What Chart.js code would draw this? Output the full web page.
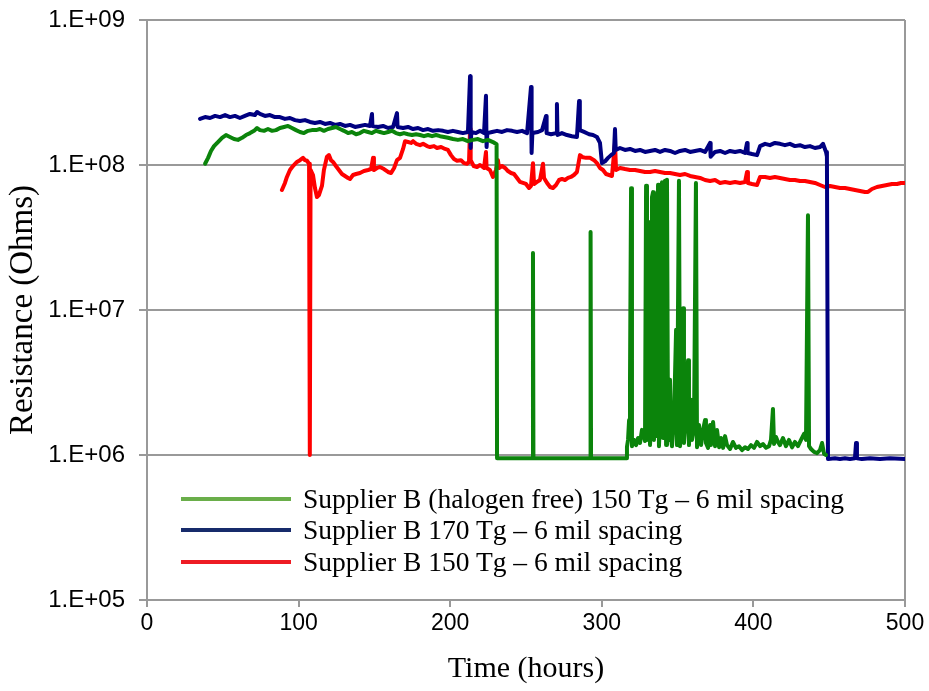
<!DOCTYPE html>
<html>
<head>
<meta charset="utf-8">
<script src="https://cdn.jsdelivr.net/npm/chart.js@4"></script>
<style>
html,body{margin:0;padding:0;background:#fff;}
#wrap{position:relative;width:929px;height:691px;}
#legend{position:absolute;left:181px;top:483px;font-family:'Liberation Serif','Times New Roman',serif;font-size:27.5px;color:#000;}
#legend .row{display:flex;align-items:center;height:31.5px;white-space:nowrap;}
#legend .sw{width:110px;height:4px;margin-right:12px;}
</style>
</head>
<body>
<div id="wrap"><canvas id="c" width="929" height="691"></canvas><div id="legend"></div></div>
<script>
// series labels + tick labels
const seriesLabels = ['Supplier B (halogen free) 150 Tg \u2013 6 mil spacing','Supplier B 170 Tg \u2013 6 mil spacing','Supplier B 150 Tg \u2013 6 mil spacing'];
const yTickValues = [1e5,1e6,1e7,1e8,1e9];
const yTickLabels = ['1.E+05','1.E+06','1.E+07','1.E+08','1.E+09'];
const xTickValues = [0,100,200,300,400,500];

// [hours, ohms]
const greenSeries = [
 [38.3,1.02e8],[40.3,1.12e8],[42.2,1.25e8],[44.2,1.35e8],[46.8,1.44e8],[49.5,1.54e8],[52.1,1.61e8],[54.7,1.56e8],[57.4,1.51e8],[60.0,1.49e8],
 [62.7,1.54e8],[65.3,1.61e8],[68.0,1.66e8],[70.6,1.72e8],[72.6,1.80e8],[74.5,1.74e8],[77.2,1.72e8],[79.8,1.77e8],[82.5,1.72e8],[85.1,1.74e8],
 [87.7,1.80e8],[90.4,1.83e8],[93.0,1.86e8],[95.6,1.80e8],[98.3,1.74e8],[100.9,1.69e8],[103.5,1.66e8],[106.2,1.72e8],[108.8,1.74e8],[111.5,1.74e8],
 [114.1,1.77e8],[116.7,1.72e8],[119.4,1.77e8],[122.0,1.80e8],[124.6,1.83e8],[127.3,1.77e8],[129.9,1.72e8],[132.6,1.66e8],[135.2,1.69e8],[137.9,1.63e8],
 [140.5,1.66e8],[143.1,1.72e8],[145.8,1.69e8],[148.4,1.66e8],[151.1,1.72e8],[153.7,1.69e8],[156.3,1.66e8],[159.0,1.69e8],[161.6,1.72e8],[164.2,1.66e8],
 [166.9,1.63e8],[169.5,1.66e8],[172.2,1.63e8],[174.8,1.61e8],[177.5,1.63e8],[180.1,1.61e8],[182.7,1.58e8],[185.4,1.61e8],[188.0,1.58e8],[190.7,1.61e8],
 [193.3,1.58e8],[196.0,1.56e8],[198.5,1.54e8],[201.8,1.51e8],[205.1,1.49e8],[208.4,1.51e8],[211.7,1.46e8],[215.0,1.49e8],[218.3,1.51e8],[221.6,1.46e8],
 [224.9,1.49e8],[228.2,1.44e8],[230.6,1.39e8],[230.9,9.5e5],[240.0,9.5e5],[254.4,9.5e5],[254.6,2.47e7],[254.9,9.5e5],[270.0,9.5e5],[292.4,9.5e5],
 [292.6,3.45e7],[292.9,9.5e5],[305.0,9.5e5],[316.0,9.5e5],
 [316.6,1.14e6],[317.3,1.27e6],[318.0,1.74e6],[318.6,3.3e6],[319.3,6.9e7],[319.9,1.15e6],[321.3,1.27e6],[322.6,1.17e6],[323.9,1.31e6],[325.2,1.21e6],
 [326.5,1.49e6],[327.8,1.35e6],[328.5,1.25e6],[329.2,7.2e7],[329.8,1.27e6],[330.5,1.44e6],[331.1,4.05e7],[331.8,1.17e6],[332.5,1.74e6],[333.1,6.0e7],
 [333.8,6.5e7],[334.4,1.27e6],[335.1,3.3e6],[335.8,1.35e6],[336.4,1.17e7],[337.1,7.3e7],[337.7,1.15e6],[338.4,1.74e6],[339.1,1.17e7],[339.7,7.6e7],
 [340.4,1.31e6],[341.0,2.6e7],[341.7,7.8e7],[342.4,1.17e6],[343.0,7.9e7],[343.7,1.27e6],[344.3,1.74e6],[345.0,3.3e6],[345.7,1.31e6],[346.3,1.15e6],
 [347.6,1.74e6],[349.0,7.3e6],[349.6,1.17e6],[350.9,7.8e7],[351.6,1.15e6],[352.3,1.61e6],[353.6,1.03e7],[354.2,1.21e6],[355.5,1.74e6],[356.9,4.5e6],
 [357.5,1.17e6],[358.8,2.4e6],[359.5,1.27e6],[360.8,1.49e6],[362.1,7.5e7],[362.8,1.13e6],[364.1,1.61e6],[365.5,1.17e6],[366.8,1.49e6],[368.1,1.74e6],
 [368.7,1.21e6],[370.1,1.12e6],[371.4,1.61e6],[372.0,1.17e6],[373.4,1.69e6],[374.7,1.15e6],[376.0,1.49e6],[377.4,1.13e6],[378.6,1.31e6],[380.0,1.12e6],
 [381.3,1.35e6],[382.6,1.17e6],[384.6,1.10e6],[386.5,1.23e6],[388.5,1.12e6],[390.5,1.15e6],[392.5,1.08e6],[394.5,1.13e6],[396.4,1.10e6],[398.4,1.17e6],
 [400.4,1.12e6],[402.4,1.23e6],[404.4,1.15e6],[406.3,1.19e6],[408.3,1.12e6],[410.3,1.15e6],[411.6,1.27e6],[412.9,2.08e6],[413.6,1.19e6],[414.9,1.33e6],
 [416.2,1.23e6],[417.5,1.17e6],[419.5,1.31e6],[421.5,1.15e6],[423.5,1.27e6],[425.5,1.13e6],[427.4,1.23e6],[429.4,1.15e6],[431.4,1.27e6],[433.4,1.40e6],
 [434.7,1.27e6],[436.0,4.5e7],[436.7,1.15e6],[438.0,1.10e6],[440.0,1.05e6],[442.0,1.03e6],[443.9,1.08e6],[445.3,1.21e6],[446.6,1.02e6],[447.9,1.0e6]
];

const blueSeries = [
 [35.0,2.08e8],[38.3,2.14e8],[41.6,2.11e8],[44.9,2.18e8],[48.2,2.14e8],[51.5,2.21e8],[54.7,2.14e8],[58.0,2.18e8],[61.3,2.11e8],[64.6,2.18e8],
 [67.9,2.25e8],[71.2,2.21e8],[72.6,2.32e8],[74.5,2.25e8],[77.8,2.18e8],[81.1,2.21e8],[84.4,2.14e8],[87.7,2.14e8],[91.0,2.08e8],[94.3,2.11e8],
 [97.6,2.04e8],[100.9,2.01e8],[104.2,2.04e8],[107.5,1.98e8],[110.8,1.95e8],[114.1,1.98e8],[117.4,1.92e8],[120.7,1.95e8],[124.0,1.89e8],[127.3,1.92e8],
 [130.6,1.86e8],[133.9,1.89e8],[137.2,1.83e8],[140.5,1.86e8],[143.8,1.89e8],[147.1,1.86e8],[148.4,2.25e8],[148.7,1.86e8],[152.4,1.83e8],[155.7,1.86e8],
 [159.0,1.80e8],[162.3,1.83e8],[164.9,2.28e8],[165.3,1.83e8],[168.9,1.80e8],[172.2,1.83e8],[175.5,1.77e8],[178.8,1.80e8],[182.1,1.74e8],[185.4,1.77e8],
 [188.7,1.72e8],[192.0,1.74e8],[195.3,1.72e8],[198.5,1.69e8],[201.8,1.72e8],[205.1,1.69e8],[208.4,1.66e8],[211.7,1.69e8],[213.1,4.1e8],[213.5,1.31e8],
 [213.9,1.69e8],[217.0,1.66e8],[219.7,1.72e8],[222.3,1.66e8],[223.6,3.0e8],[224.0,1.33e8],[224.5,1.66e8],[227.6,1.69e8],[230.9,1.72e8],[234.2,1.69e8],
 [237.5,1.74e8],[240.8,1.72e8],[244.1,1.69e8],[247.4,1.72e8],[250.7,1.66e8],[253.3,3.45e8],[253.7,1.21e8],[254.2,1.66e8],[257.9,1.69e8],[260.6,1.74e8],
 [263.2,2.18e8],[263.6,1.66e8],[266.5,1.63e8],[269.9,1.66e8],[270.4,2.63e8],[270.8,1.61e8],[273.7,1.66e8],[277.0,1.61e8],[280.3,1.58e8],[283.6,1.56e8],
 [285.0,2.76e8],[285.5,1.74e8],[288.3,1.69e8],[291.6,1.63e8],[294.2,1.61e8],[296.8,1.56e8],[298.8,1.42e8],[300.1,1.03e8],[302.1,1.06e8],[304.1,1.12e8],
 [306.1,1.17e8],[308.0,1.21e8],[308.7,1.77e8],[309.2,1.27e8],[312.0,1.31e8],[315.3,1.27e8],[318.6,1.29e8],[321.9,1.25e8],[325.2,1.27e8],[328.5,1.23e8],
 [331.8,1.25e8],[335.1,1.27e8],[338.4,1.23e8],[341.7,1.27e8],[345.0,1.25e8],[348.3,1.21e8],[351.6,1.25e8],[354.9,1.27e8],[358.2,1.23e8],[361.5,1.25e8],
 [364.8,1.27e8],[368.1,1.23e8],[371.4,1.42e8],[371.8,1.14e8],[374.7,1.23e8],[378.0,1.25e8],[381.3,1.21e8],[384.6,1.25e8],[387.9,1.23e8],[391.2,1.25e8],
 [394.5,1.21e8],[395.8,1.42e8],[396.2,1.21e8],[399.1,1.19e8],[402.4,1.17e8],[404.4,1.35e8],[407.7,1.40e8],[410.9,1.37e8],[414.2,1.42e8],[417.5,1.40e8],
 [420.8,1.37e8],[424.1,1.40e8],[427.4,1.35e8],[430.7,1.37e8],[434.0,1.33e8],[437.3,1.35e8],[440.6,1.31e8],[443.9,1.33e8],[445.9,1.40e8],[447.9,1.23e8],
 [448.5,1.14e8],[449.2,9.4e5],[453.8,9.5e5],[457.1,9.4e5],[460.4,9.5e5],[463.7,9.4e5],[467.0,9.5e5],[467.7,1.21e6],[468.3,9.5e5],[471.6,9.4e5],
 [476.9,9.5e5],[483.5,9.4e5],[490.1,9.5e5],[500,9.4e5]
];

const redSeries = [
 [89.0,6.73e7],[91.0,7.52e7],[92.3,8.27e7],[94.3,9.24e7],[96.3,9.84e7],[98.9,1.05e8],[100.9,1.08e8],[102.9,1.12e8],[104.2,1.08e8],[105.5,1.07e8],
 [106.9,1.02e8],[107.4,1.0e6],[107.9,9.24e7],[109.5,8.53e7],[110.8,6.94e7],[112.1,6.02e7],[113.4,6.21e7],[115.4,7.17e7],[116.7,9.24e7],[118.7,1.14e8],
 [120.0,1.17e8],[121.4,1.08e8],[122.7,1.05e8],[124.6,9.84e7],[126.6,9.24e7],[128.6,8.67e7],[130.6,8.40e7],[132.6,8.14e7],[133.9,8.01e7],[135.9,8.53e7],
 [137.9,8.67e7],[140.5,8.81e7],[143.1,9.09e7],[145.8,9.24e7],[147.8,9.38e7],[149.1,1.12e8],[149.7,9.24e7],[151.7,9.54e7],[153.7,9.69e7],[156.3,9.38e7],
 [159.0,8.95e7],[161.0,8.81e7],[163.0,9.54e7],[164.9,1.08e8],[166.9,1.12e8],[168.9,1.29e8],[170.2,1.46e8],[172.2,1.44e8],[174.2,1.42e8],[175.5,1.46e8],
 [177.5,1.40e8],[180.1,1.37e8],[182.1,1.40e8],[184.7,1.35e8],[186.7,1.33e8],[189.3,1.35e8],[191.3,1.31e8],[194.0,1.33e8],[196.6,1.29e8],[198.5,1.27e8],
 [200.5,1.17e8],[202.5,1.10e8],[204.5,1.07e8],[207.1,1.08e8],[209.1,1.03e8],[211.1,1.02e8],[212.4,1.05e8],[213.1,1.77e8],[213.5,1.08e8],[215.5,9.84e7],
 [217.7,9.69e7],[219.7,1.0e8],[222.3,9.54e7],[223.6,1.23e8],[224.0,9.54e7],[226.2,9.24e7],[228.2,8.27e7],[230.2,9.24e7],[231.5,1.08e8],[232.2,9.54e7],
 [234.2,9.84e7],[236.2,9.54e7],[238.1,9.09e7],[240.1,8.81e7],[242.1,8.67e7],[244.1,8.14e7],[246.0,7.64e7],[248.0,7.52e7],[250.0,7.40e7],[252.0,6.94e7],
 [253.3,7.17e7],[254.6,1.03e8],[255.3,7.40e7],[257.3,7.64e7],[259.2,7.88e7],[261.2,1.02e8],[261.9,8.14e7],[263.9,7.52e7],[265.9,7.05e7],[267.8,6.94e7],
 [269.8,7.28e7],[271.8,7.88e7],[273.7,8.01e7],[275.7,7.88e7],[277.7,8.14e7],[279.6,8.27e7],[281.6,8.53e7],[283.6,8.95e7],[285.6,1.17e8],[287.6,1.13e8],
 [289.6,1.12e8],[292.2,1.12e8],[294.9,1.08e8],[296.8,1.03e8],[298.8,9.54e7],[300.8,9.24e7],[302.8,8.67e7],[304.8,8.53e7],[306.7,8.40e7],[308.7,1.42e8],
 [309.4,9.24e7],[312.0,9.54e7],[315.3,9.38e7],[318.6,9.24e7],[321.9,9.24e7],[325.2,9.09e7],[328.5,8.95e7],[331.8,8.95e7],[335.1,9.09e7],[338.4,8.95e7],
 [341.7,8.81e7],[345.0,8.81e7],[348.3,8.67e7],[351.6,8.53e7],[354.9,8.67e7],[358.2,8.40e7],[361.5,8.27e7],[364.8,8.14e7],[368.1,7.88e7],[371.4,7.76e7],
 [374.7,7.88e7],[378.0,7.52e7],[381.3,7.64e7],[384.6,7.52e7],[387.9,7.64e7],[391.2,7.52e7],[394.5,7.64e7],[395.8,8.95e7],[396.4,7.52e7],[399.1,7.40e7],
 [402.4,7.28e7],[404.4,8.27e7],[407.7,8.27e7],[410.9,8.14e7],[414.2,8.27e7],[417.5,8.14e7],[420.8,8.01e7],[424.1,7.88e7],[427.4,7.88e7],[430.7,7.76e7],
 [434.0,7.76e7],[437.3,7.64e7],[440.6,7.52e7],[443.9,7.28e7],[447.2,7.05e7],[450.5,7.17e7],[453.8,7.05e7],[457.1,6.94e7],[460.4,6.94e7],[463.7,6.83e7],
 [467.0,6.73e7],[470.3,6.62e7],[473.6,6.52e7],[475.6,6.52e7],[478.2,6.83e7],[481.5,7.05e7],[484.8,7.17e7],[488.1,7.28e7],[491.4,7.40e7],[494.7,7.40e7],
 [497.4,7.52e7],[500,7.52e7]
];

const lineColors = ['#0b840b','#000080','#ff0000'];
const legendColors = ['#6aae4a','#172b6b','#ee1c24'];

const pts = arr => arr.map(p=>({x:p[0], y:p[1]}));
const sans = "'Liberation Sans', Arial, sans-serif";
const serif = "'Liberation Serif', 'Times New Roman', serif";

// right edge of the plot frame
const frame = {
  id:'frame',
  beforeDatasetsDraw(ch){
    const a = ch.chartArea, c = ch.ctx;
    c.save(); c.strokeStyle='#999'; c.lineWidth=2;
    c.beginPath(); c.moveTo(a.right, a.top); c.lineTo(a.right, a.bottom); c.stroke();
    c.restore();
  }
};

new Chart(document.getElementById('c'), {
  type:'line',
  data:{ datasets:[greenSeries, blueSeries, redSeries].map((s,i)=>({
    label:seriesLabels[i], data:pts(s), borderColor:lineColors[i], backgroundColor:lineColors[i], fill:false
  }))},
  options:{
    responsive:false, animation:false, normalized:true,
    layout:{padding:{top:20, right:24, left:0, bottom:0}},
    plugins:{legend:{display:false}, tooltip:{enabled:false}},
    elements:{point:{radius:0}, line:{borderWidth:4, tension:0, borderJoinStyle:'round', borderCapStyle:'round'}},
    scales:{
      x:{
        type:'linear', min:0, max:500,
        afterBuildTicks:s=>{ s.ticks = xTickValues.map(v=>({value:v})); },
        ticks:{color:'#000', font:{family:sans, size:23}, padding:3, maxRotation:0, autoSkip:false},
        grid:{drawOnChartArea:false, color:'#999', lineWidth:2, tickLength:7},
        border:{color:'#999', width:2},
        title:{display:true, text:'Time (hours)', color:'#000', font:{family:serif, size:30}, padding:{top:0, bottom:4}},
        afterFit:s=>{ s.height = 91; s.paddingLeft = 0; s.paddingRight = 0; }
      },
      y:{
        type:'logarithmic', min:1e5, max:1e9,
        afterBuildTicks:s=>{ s.ticks = yTickValues.map(v=>({value:v})); },
        ticks:{color:'#000', font:{family:sans, size:24}, padding:14, autoSkip:false, callback:(v,i)=>yTickLabels[i]},
        grid:{color:'#999', lineWidth:2, tickLength:8},
        border:{color:'#999', width:2},
        title:{display:true, text:'Resistance (Ohms)', color:'#000', font:{family:serif, size:33}, padding:{top:4, bottom:0}},
        afterFit:s=>{ s.width = 147; s.paddingTop = 0; s.paddingBottom = 0; }
      }
    }
  },
  plugins:[frame]
});

// legend inside the plot
const lg = document.getElementById('legend');
seriesLabels.forEach((t,i)=>{
  const row = document.createElement('div'); row.className='row';
  const sw = document.createElement('span'); sw.className='sw'; sw.style.background = legendColors[i];
  const tx = document.createElement('span'); tx.textContent = t;
  row.append(sw, tx); lg.appendChild(row);
});
</script>
</body>
</html>
